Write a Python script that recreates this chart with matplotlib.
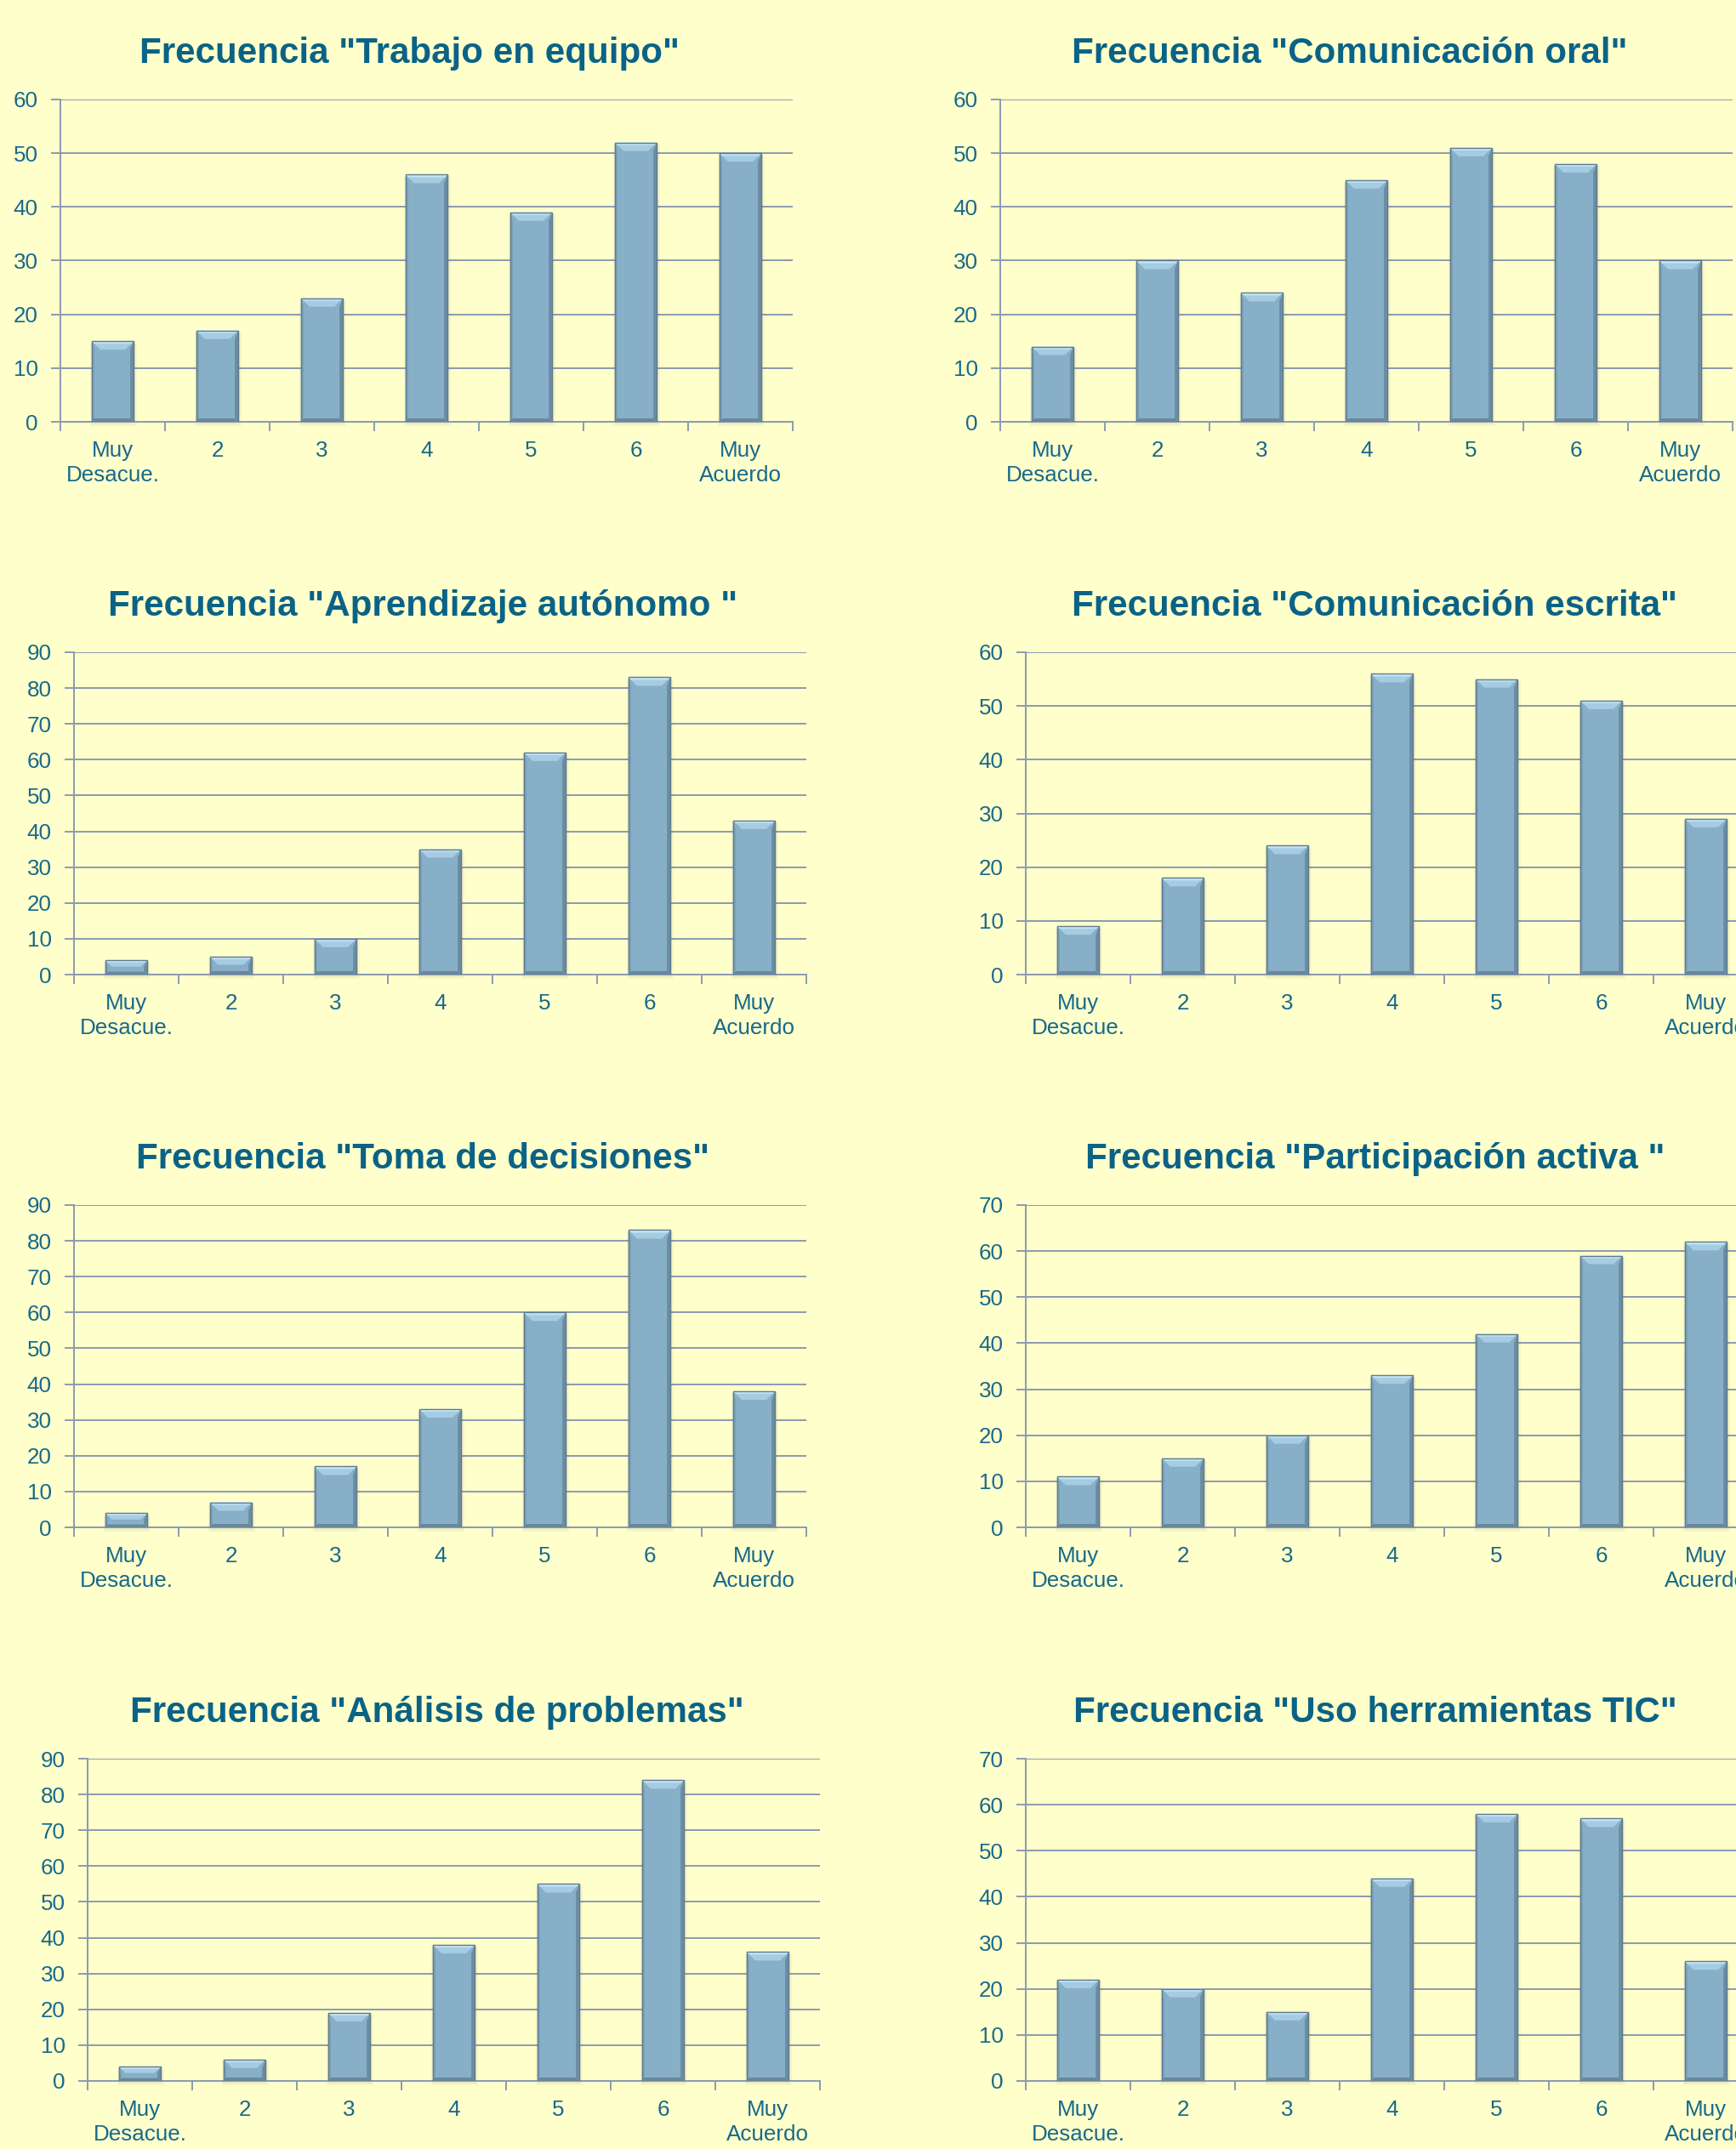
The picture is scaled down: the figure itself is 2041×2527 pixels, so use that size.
import matplotlib
matplotlib.use("Agg")
import matplotlib.pyplot as plt
from matplotlib.patches import Polygon, Rectangle
from matplotlib.ticker import FixedLocator

W, H = 2041, 2527
DPI = 100

categories = ["Muy\nDesacue.", "2", "3", "4", "5", "6", "Muy\nAcuerdo"]

titles = [
    'Frecuencia "Trabajo en equipo"',
    'Frecuencia "Comunicación oral"',
    'Frecuencia "Aprendizaje autónomo "',
    'Frecuencia "Comunicación escrita"',
    'Frecuencia "Toma de decisiones"',
    'Frecuencia "Participación activa "',
    'Frecuencia "Análisis de problemas"',
    'Frecuencia "Uso herramientas TIC"',
]

trabajo_equipo = [15, 17, 23, 46, 39, 52, 50]
comunicacion_oral = [14, 30, 24, 45, 51, 48, 30]
aprendizaje_autonomo = [4, 5, 10, 35, 62, 83, 43]
comunicacion_escrita = [9, 18, 24, 56, 55, 51, 29]
toma_decisiones = [4, 7, 17, 33, 60, 83, 38]
participacion_activa = [11, 15, 20, 33, 42, 59, 62]
analisis_problemas = [4, 6, 19, 38, 55, 84, 36]
uso_tic = [22, 20, 15, 44, 58, 57, 26]

series = [trabajo_equipo, comunicacion_oral, aprendizaje_autonomo, comunicacion_escrita,
          toma_decisiones, participacion_activa, analisis_problemas, uso_tic]
y_max = [60, 60, 90, 60, 90, 70, 90, 70]

# layout in pixels: (left, top) of plot area
AX_W, AX_H = 861, 379
boxes = [(71, 117), (1176, 117), (87, 767), (1206, 767),
         (87, 1417), (1206, 1417), (103, 2068), (1206, 2068)]

BG = "#FFFFCC"
GRID = "#8A9BB0"
TXT = "#17698A"
TITLE = "#0A6386"
BODY = "#88AFC8"

plt.rcParams["font.family"] = ["Liberation Sans", "DejaVu Sans"]

fig = plt.figure(figsize=(W / DPI, H / DPI), dpi=DPI, facecolor=BG)


def bevel_bar(ax, x, h, ymax):
    bw = 0.4
    x0, x1 = x - bw / 2, x + bw / 2
    sx = 7.0 / AX_W
    sy = ymax / AX_H
    hp = h / sy
    b = min(10.0, hp * 0.45)
    bb = min(4.0, hp * 0.2)
    sl, sr = 3.0, 4.0
    # soft shadow
    for k, a in ((5, 0.06), (3, 0.08)):
        ax.add_patch(Rectangle((x0 - k * sx * 0.3, -k * sy), bw + k * sx, h + k * sy * 0.5,
                               facecolor="#6b7468", alpha=a, lw=0, zorder=2, clip_on=False))
    ax.bar([x], [h], width=bw, color=BODY, edgecolor="#5E7B8F", linewidth=0.9, zorder=3)
    ax.add_patch(Polygon([(x0, 0), (x0 + sl * sx, bb * sy), (x0 + sl * sx, h - b * sy), (x0, h)],
                         closed=True, facecolor="#7A9FB8", lw=0, zorder=4))
    ax.add_patch(Polygon([(x1, 0), (x1 - sr * sx, bb * sy), (x1 - sr * sx, h - b * sy), (x1, h)],
                         closed=True, facecolor="#6C8CA2", lw=0, zorder=4))
    ax.add_patch(Polygon([(x0, 0), (x1, 0), (x1 - sr * sx, bb * sy), (x0 + sl * sx, bb * sy)],
                         closed=True, facecolor="#6A879B", lw=0, zorder=4))
    ax.add_patch(Polygon([(x0, h), (x1, h), (x1 - b * sx, h - b * sy), (x0 + b * sx, h - b * sy)],
                         closed=True, facecolor="#A6CCE3", lw=0, zorder=4))
    t = min(3.0, b * 0.35)
    ax.add_patch(Polygon([(x0, h), (x1, h), (x1 - t * sx, h - t * sy), (x0 + t * sx, h - t * sy)],
                         closed=True, facecolor="#C4E3F3", lw=0, zorder=4))
    ax.add_patch(Rectangle((x0, 0), bw, h, facecolor="none", edgecolor="#5E7B8F",
                           lw=0.9, zorder=5))


for i, (vals, ttl, ym, (lx, ty)) in enumerate(zip(series, titles, y_max, boxes)):
    ax = fig.add_axes([lx / W, 1 - (ty + AX_H) / H, AX_W / W, AX_H / H])
    ax.set_facecolor("none")
    ax.set_xlim(-0.5, 6.5)
    ax.set_ylim(0, ym)
    xs = list(range(len(categories)))
    for x, v in zip(xs, vals):
        bevel_bar(ax, x, v, ym)
    ax.set_yticks(list(range(0, ym + 1, 10)))
    ax.yaxis.grid(True, color=GRID, lw=1.4, zorder=0)
    ax.set_axisbelow(True)
    ax.set_xticks(xs)
    ax.set_xticklabels(categories, linespacing=1.27)
    ax.xaxis.set_minor_locator(FixedLocator([k - 0.5 for k in range(8)]))
    ax.tick_params(axis="x", which="major", length=0, pad=16, labelsize=18.7, labelcolor=TXT)
    ax.tick_params(axis="x", which="minor", length=8, width=1.4, color=GRID, direction="out")
    ax.tick_params(axis="y", length=8, width=1.4, color=GRID, pad=11, labelsize=18.7, labelcolor=TXT)
    for s in ("top", "right"):
        ax.spines[s].set_visible(False)
    for s in ("left", "bottom"):
        ax.spines[s].set_color(GRID)
        ax.spines[s].set_linewidth(1.4)
    cx = lx + AX_W / 2 - 20
    fig.text(cx / W, 1 - (ty - 54) / H, ttl, ha="center", va="center",
             fontsize=30.3, fontweight="bold", color=TITLE)

fig.savefig("out.png", dpi=DPI, facecolor=BG)
